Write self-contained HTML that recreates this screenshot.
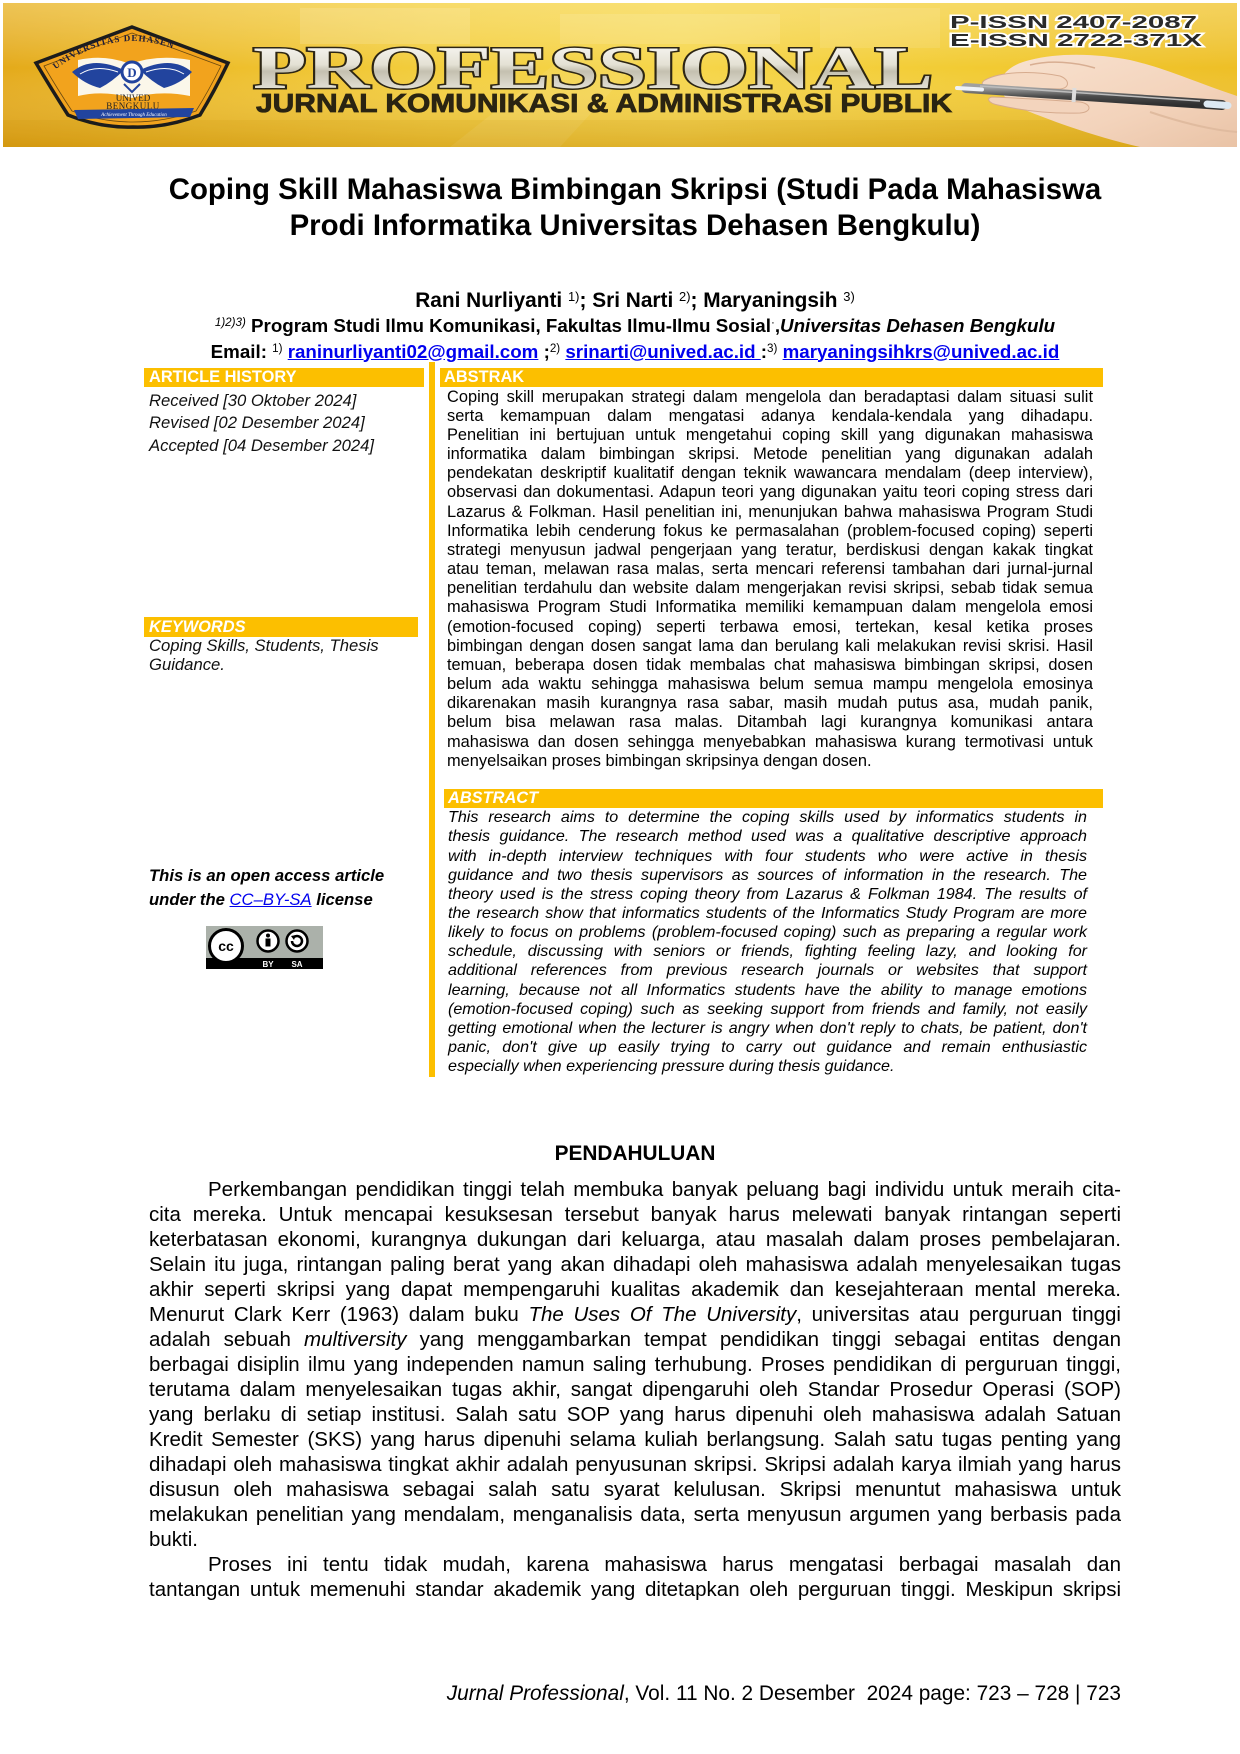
<!DOCTYPE html>
<html><head><meta charset="utf-8">
<style>
*{margin:0;padding:0;box-sizing:border-box}
html,body{width:1240px;height:1754px;background:#fff;overflow:hidden}
#p{position:relative;width:1240px;height:1754px;font-family:"Liberation Sans",Arial,sans-serif;color:#000;background:#fff}
.a{position:absolute}
.sup{font-size:0.62em;position:relative;top:-0.45em;font-weight:normal}
a{color:#0000ee;text-decoration:underline}
.bar{position:absolute;background:#fcbf00;color:#fff;font-weight:bold;font-size:16.4px;white-space:nowrap}
.j{text-align:justify;text-align-last:justify;white-space:normal;overflow:visible}
.e{text-align-last:left}
.c{text-align:center;white-space:nowrap}
</style></head><body><div id="p">

<!-- Banner -->
<svg class="a" style="left:0;top:0" width="1240" height="150" viewBox="0 0 1240 150">
<defs>
<linearGradient id="g1" x1="0" y1="0" x2="1" y2="0">
<stop offset="0" stop-color="#e4aa1a"/><stop offset="0.15" stop-color="#ecbb28"/><stop offset="0.35" stop-color="#f3ce3d"/><stop offset="0.55" stop-color="#f6d64a"/><stop offset="0.78" stop-color="#f2cb33"/><stop offset="1" stop-color="#eebf26"/>
</linearGradient>
<linearGradient id="g2" x1="0" y1="0" x2="0" y2="1">
<stop offset="0" stop-color="#fff3c0" stop-opacity="0.35"/><stop offset="0.45" stop-color="#fff" stop-opacity="0"/><stop offset="1" stop-color="#b87800" stop-opacity="0.32"/>
</linearGradient>
<linearGradient id="sil" x1="0" y1="0" x2="0" y2="1">
<stop offset="0" stop-color="#ffffff"/><stop offset="0.45" stop-color="#e4e1d4"/><stop offset="0.55" stop-color="#c4c0b0"/><stop offset="1" stop-color="#f8f6ee"/>
</linearGradient>
<linearGradient id="pen" x1="0" y1="0" x2="0" y2="1">
<stop offset="0" stop-color="#a0a0a0"/><stop offset="0.5" stop-color="#4a4a4a"/><stop offset="1" stop-color="#2e2e2e"/>
</linearGradient>
<linearGradient id="skin" x1="0" y1="0" x2="1" y2="1">
<stop offset="0" stop-color="#f8e2d0"/><stop offset="0.6" stop-color="#f3d3bb"/><stop offset="1" stop-color="#e9c3a6"/>
</linearGradient>
<path id="arc" d="M52,72 Q132,10 214,72"/>
</defs>
<rect x="3" y="3" width="1234" height="144" fill="url(#g1)"/>
<rect x="3" y="3" width="1234" height="144" fill="url(#g2)"/>
<rect x="300" y="8" width="170" height="36" fill="#fff" opacity="0.14"/>
<rect x="560" y="14" width="220" height="30" fill="#fff" opacity="0.12"/>
<rect x="820" y="8" width="120" height="40" fill="#fff" opacity="0.1"/>
<polygon points="450,147 560,60 640,60 560,147" fill="#fff" opacity="0.08"/>
<rect x="3" y="120" width="1234" height="27" fill="#c98a00" opacity="0.12"/>

<!-- logo -->
<path d="M132,27 L228,63 Q214,92 200,115 Q166,128 133,127 Q100,128 68,115 Q52,90 36,63 Z" fill="#f2a31d" stroke="#1c1c1c" stroke-width="3.5"/>
<path d="M132,33 L221,66 Q208,92 196,111 Q165,122 133,122 Q101,122 72,111 Q58,90 44,66 Z" fill="none" stroke="#6b4a10" stroke-width="0.8"/>
<text font-family="Liberation Serif,serif" font-weight="bold" font-size="9" fill="#1b1b3a" letter-spacing="1"><textPath href="#arc" startOffset="4">UNIVERSITAS DEHASEN</textPath></text>
<path d="M78,60 Q105,54 130,64 Q158,54 190,60 L190,96 Q160,90 132,98 Q104,90 78,96 Z" fill="#fbf7ea"/>
<path d="M72,72 Q92,55 124,70 Q112,82 100,88 Q84,84 72,72 Z" fill="#22449e"/>
<path d="M192,72 Q172,55 140,70 Q152,82 164,88 Q180,84 192,72 Z" fill="#22449e"/>
<path d="M80,74 Q96,64 118,72" stroke="#fff" stroke-width="1" fill="none"/>
<path d="M184,74 Q168,64 146,72" stroke="#fff" stroke-width="1" fill="none"/>
<circle cx="132" cy="72" r="10" fill="#fff" stroke="#22449e" stroke-width="3"/>
<text x="132" y="77" font-family="Liberation Serif,serif" font-weight="bold" font-size="13" text-anchor="middle" fill="#22449e">D</text>
<path d="M124,84 L132,92 L140,84" stroke="#22449e" stroke-width="2" fill="none"/>
<text x="133" y="101" font-family="Liberation Serif,serif" font-size="9" text-anchor="middle" fill="#222">UNIVED</text>
<text x="133" y="109" font-family="Liberation Serif,serif" font-size="9" text-anchor="middle" fill="#222" letter-spacing="0.5">BENGKULU</text>
<polygon points="74,110 194,108 190,117 78,119" fill="#22449e"/>
<text x="134" y="116" font-family="Liberation Serif,serif" font-style="italic" font-size="5" text-anchor="middle" fill="#fff">Achievement Through Education</text>

<!-- title art -->
<text x="253" y="88" font-family="Liberation Serif,serif" font-weight="bold" font-size="60" textLength="680" lengthAdjust="spacingAndGlyphs" fill="url(#sil)" stroke="#2d2614" stroke-width="3" paint-order="stroke">PROFESSIONAL</text>
<text x="256" y="112" font-family="Liberation Sans,sans-serif" font-weight="bold" font-size="26" textLength="696" lengthAdjust="spacingAndGlyphs" fill="#2a2412" stroke="#2a2412" stroke-width="0.8">JURNAL KOMUNIKASI &amp; ADMINISTRASI PUBLIK</text>
<text x="950" y="28" font-family="Liberation Sans,sans-serif" font-weight="bold" font-size="17.5" textLength="247" lengthAdjust="spacingAndGlyphs" fill="#2a2a2a" stroke="#fff" stroke-width="3" paint-order="stroke">P-ISSN 2407-2087</text>
<text x="950" y="46" font-family="Liberation Sans,sans-serif" font-weight="bold" font-size="17.5" textLength="252" lengthAdjust="spacingAndGlyphs" fill="#2a2a2a" stroke="#fff" stroke-width="3" paint-order="stroke">E-ISSN 2722-371X</text>

<!-- hand & pen -->
<path d="M1030,60 C1060,52 1100,54 1130,60 C1165,68 1195,82 1237,96 L1237,147 L1140,147 C1100,138 1060,124 1030,112 C1010,104 1000,95 1000,86 C1000,74 1012,64 1030,60 Z" fill="url(#skin)"/>
<path d="M985,80 C1000,72 1030,70 1060,76 C1070,80 1070,88 1060,89 C1035,88 1005,88 990,88 C982,87 980,83 985,80 Z" fill="#f5d9c3" stroke="#d6ab8e" stroke-width="1"/>
<line x1="966" y1="88" x2="1222" y2="105" stroke="url(#pen)" stroke-width="10" stroke-linecap="round"/>
<line x1="980" y1="86" x2="1200" y2="101" stroke="#bdbdbd" stroke-width="1.5"/>
<path d="M992,97 C1020,98 1050,100 1080,102 C1092,104 1092,112 1080,113 C1050,114 1020,110 998,105 C988,103 986,98 992,97 Z" fill="#f3d4bd" stroke="#d6ab8e" stroke-width="1"/>
<path d="M1030,65 C1050,60 1075,62 1095,68" stroke="#d8ae92" stroke-width="1.5" fill="none"/>
<path d="M1150,112 C1180,122 1210,130 1237,132" stroke="#e0bb9f" stroke-width="2" fill="none"/>
<line x1="957" y1="88" x2="982" y2="89.5" stroke="#eef2f8" stroke-width="4" stroke-linecap="round"/>
<line x1="1207" y1="104" x2="1228" y2="105.5" stroke="#dce8f2" stroke-width="7" stroke-linecap="round"/>
<rect x="1072" y="88" width="4" height="14" fill="#ddd" transform="rotate(4 1074 95)"/>
</svg>

<!-- Title -->
<div class="a c" style="left:149px;top:172px;width:972px;font-weight:bold;font-size:29.4px;line-height:36px">Coping Skill Mahasiswa Bimbingan Skripsi (Studi Pada Mahasiswa<br>Prodi Informatika Universitas Dehasen Bengkulu)</div>

<div class="a c" style="left:149px;top:289px;width:972px;font-weight:bold;font-size:20.83px;line-height:24px">Rani Nurliyanti <span class="sup">1)</span>; Sri Narti <span class="sup">2)</span>; Maryaningsih <span class="sup">3)</span></div>

<div class="a c" style="left:149px;top:313.5px;width:972px;font-weight:bold;font-size:18.75px;line-height:24px"><span class="sup"><i>1)2)3)</i></span> Program Studi Ilmu Komunikasi, Fakultas Ilmu-Ilmu Sosial<span class="sup">·</span>,<i>Universitas Dehasen Bengkulu</i></div>

<div class="a c" style="left:149px;top:339.5px;width:972px;font-weight:bold;font-size:18.75px;line-height:24px">Email: <span class="sup">1)</span> <a>raninurliyanti02@gmail.com</a> ;<span class="sup">2)</span> <a>srinarti@unived.ac.id </a>:<span class="sup">3)</span> <a>maryaningsihkrs@unived.ac.id</a></div>

<!-- vertical line -->
<div class="a" style="left:429px;top:362px;width:6px;height:715px;background:#fcbf00"></div>

<!-- bars -->
<div class="bar" style="left:144px;top:368px;width:280px;height:19px;line-height:19px;padding-left:5px">ARTICLE HISTORY</div>
<div class="bar" style="left:440px;top:368px;width:663px;height:19px;line-height:19px;padding-left:4px">ABSTRAK</div>
<div class="bar" style="left:144px;top:617px;width:274px;height:20px;line-height:20px;padding-left:5px;font-style:italic">KEYWORDS</div>
<div class="bar" style="left:444px;top:789px;width:659px;height:19px;line-height:19px;padding-left:4px;font-style:italic">ABSTRACT</div>

<!-- article history -->
<div class="a" style="left:149px;top:389.5px;font-style:italic;font-size:16.67px;line-height:22.8px;color:#111;white-space:nowrap">Received [30 Oktober 2024]<br>Revised [02 Desember 2024]<br>Accepted [04 Desember 2024]</div>

<!-- keywords -->
<div class="a" style="left:149px;top:636.4px;font-style:italic;font-size:16.67px;line-height:19px;color:#111;white-space:nowrap">Coping Skills, Students, Thesis<br>Guidance.</div>

<!-- open access -->
<div class="a" style="left:149px;top:864.3px;font-style:italic;font-weight:bold;font-size:16.67px;line-height:23.3px;white-space:nowrap">This is an open access article<br>under the <a style="font-weight:normal">CC–BY-SA</a> license</div>

<!-- CC badge -->
<svg class="a" style="left:206px;top:926px" width="117" height="43" viewBox="0 0 117 43">
<rect x="0" y="0" width="117" height="43" fill="#abb1aa"/>
<rect x="0" y="32" width="117" height="11" fill="#000"/>
<circle cx="20" cy="20" r="16.5" fill="#fff" stroke="#000" stroke-width="3"/>
<text x="20" y="25" font-family="Liberation Sans,sans-serif" font-weight="bold" font-size="14" text-anchor="middle" fill="#000">cc</text>
<circle cx="62" cy="15" r="10.5" fill="#fff" stroke="#000" stroke-width="2.5"/>
<circle cx="62" cy="9.5" r="2" fill="#000"/>
<rect x="59.5" y="12.5" width="5" height="8" fill="#000"/>
<circle cx="91" cy="15" r="10.5" fill="#fff" stroke="#000" stroke-width="2.5"/>
<path d="M86,15 A5,5 0 1 0 88,11" stroke="#000" stroke-width="2.5" fill="none"/>
<polygon points="85,10 90,9 88,14" fill="#000"/>
<text x="62" y="41" font-family="Liberation Sans,sans-serif" font-weight="bold" font-size="8" text-anchor="middle" fill="#fff">BY</text>
<text x="91" y="41" font-family="Liberation Sans,sans-serif" font-weight="bold" font-size="8" text-anchor="middle" fill="#fff">SA</text>
</svg>

<!-- ABSTRAK text -->
<div class="a" style="left:447px;top:387.7px;width:646px;font-size:16.4px;line-height:19.15px">
<div class="j">Coping skill merupakan strategi dalam mengelola dan beradaptasi dalam situasi sulit</div>
<div class="j">serta kemampuan dalam mengatasi adanya kendala-kendala yang dihadapu.</div>
<div class="j">Penelitian ini bertujuan untuk mengetahui coping skill yang digunakan mahasiswa</div>
<div class="j">informatika dalam bimbingan skripsi. Metode penelitian yang digunakan adalah</div>
<div class="j">pendekatan deskriptif kualitatif dengan teknik wawancara mendalam (deep interview),</div>
<div class="j">observasi dan dokumentasi. Adapun teori yang digunakan yaitu teori coping stress dari</div>
<div class="j">Lazarus &amp; Folkman. Hasil penelitian ini, menunjukan bahwa mahasiswa Program Studi</div>
<div class="j">Informatika lebih cenderung fokus ke permasalahan (problem-focused coping) seperti</div>
<div class="j">strategi menyusun jadwal pengerjaan yang teratur, berdiskusi dengan kakak tingkat</div>
<div class="j">atau teman, melawan rasa malas, serta mencari referensi tambahan dari jurnal-jurnal</div>
<div class="j">penelitian terdahulu dan website dalam mengerjakan revisi skripsi, sebab tidak semua</div>
<div class="j">mahasiswa Program Studi Informatika memiliki kemampuan dalam mengelola emosi</div>
<div class="j">(emotion-focused coping) seperti terbawa emosi, tertekan, kesal ketika proses</div>
<div class="j">bimbingan dengan dosen sangat lama dan berulang kali melakukan revisi skrisi. Hasil</div>
<div class="j">temuan, beberapa dosen tidak membalas chat mahasiswa bimbingan skripsi, dosen</div>
<div class="j">belum ada waktu sehingga mahasiswa belum semua mampu mengelola emosinya</div>
<div class="j">dikarenakan masih kurangnya rasa sabar, masih mudah putus asa, mudah panik,</div>
<div class="j">belum bisa melawan rasa malas. Ditambah lagi kurangnya komunikasi antara</div>
<div class="j">mahasiswa dan dosen sehingga menyebabkan mahasiswa kurang termotivasi untuk</div>
<div class="j e">menyelsaikan proses bimbingan skripsinya dengan dosen.</div>
</div>

<!-- ABSTRACT text -->
<div class="a" style="left:448px;top:808.2px;width:639px;font-size:16.1px;line-height:19.15px;font-style:italic">
<div class="j">This research aims to determine the coping skills used by informatics students in</div>
<div class="j">thesis guidance. The research method used was a qualitative descriptive approach</div>
<div class="j">with in-depth interview techniques with four students who were active in thesis</div>
<div class="j">guidance and two thesis supervisors as sources of information in the research. The</div>
<div class="j">theory used is the stress coping theory from Lazarus &amp; Folkman 1984. The results of</div>
<div class="j">the research show that informatics students of the Informatics Study Program are more</div>
<div class="j">likely to focus on problems (problem-focused coping) such as preparing a regular work</div>
<div class="j">schedule, discussing with seniors or friends, fighting feeling lazy, and looking for</div>
<div class="j">additional references from previous research journals or websites that support</div>
<div class="j">learning, because not all Informatics students have the ability to manage emotions</div>
<div class="j">(emotion-focused coping) such as seeking support from friends and family, not easily</div>
<div class="j">getting emotional when the lecturer is angry when don't reply to chats, be patient, don't</div>
<div class="j">panic, don't give up easily trying to carry out guidance and remain enthusiastic</div>
<div class="j e">especially when experiencing pressure during thesis guidance.</div>
</div>

<!-- PENDAHULUAN -->
<div class="a c" style="left:149px;top:1141.3px;width:972px;font-weight:bold;font-size:20.83px;line-height:25px">PENDAHULUAN</div>

<div class="a" style="left:149px;top:1177.4px;width:972px;font-size:20.5px;line-height:25px">
<div class="j" style="text-indent:59px">Perkembangan pendidikan tinggi telah membuka banyak peluang bagi individu untuk meraih cita-</div>
<div class="j">cita mereka. Untuk mencapai kesuksesan tersebut banyak harus melewati banyak rintangan seperti</div>
<div class="j">keterbatasan ekonomi, kurangnya dukungan dari keluarga, atau masalah dalam proses pembelajaran.</div>
<div class="j">Selain itu juga, rintangan paling berat yang akan dihadapi oleh mahasiswa adalah menyelesaikan tugas</div>
<div class="j">akhir seperti skripsi yang dapat mempengaruhi kualitas akademik dan kesejahteraan mental mereka.</div>
<div class="j">Menurut Clark Kerr (1963) dalam buku <i>The Uses Of The University</i>, universitas atau perguruan tinggi</div>
<div class="j">adalah sebuah <i>multiversity</i> yang menggambarkan tempat pendidikan tinggi sebagai entitas dengan</div>
<div class="j">berbagai disiplin ilmu yang independen namun saling terhubung. Proses pendidikan di perguruan tinggi,</div>
<div class="j">terutama dalam menyelesaikan tugas akhir, sangat dipengaruhi oleh Standar Prosedur Operasi (SOP)</div>
<div class="j">yang berlaku di setiap institusi. Salah satu SOP yang harus dipenuhi oleh mahasiswa adalah Satuan</div>
<div class="j">Kredit Semester (SKS) yang harus dipenuhi selama kuliah berlangsung. Salah satu tugas penting yang</div>
<div class="j">dihadapi oleh mahasiswa tingkat akhir adalah penyusunan skripsi. Skripsi adalah karya ilmiah yang harus</div>
<div class="j">disusun oleh mahasiswa sebagai salah satu syarat kelulusan. Skripsi menuntut mahasiswa untuk</div>
<div class="j">melakukan penelitian yang mendalam, menganalisis data, serta menyusun argumen yang berbasis pada</div>
<div class="j e">bukti.</div>
<div class="j" style="text-indent:59px">Proses ini tentu tidak mudah, karena mahasiswa harus mengatasi berbagai masalah dan</div>
<div class="j">tantangan untuk memenuhi standar akademik yang ditetapkan oleh perguruan tinggi. Meskipun skripsi</div>
</div>

<!-- footer -->
<div class="a" style="left:149px;top:1681.3px;width:972px;text-align:right;font-size:20.83px;line-height:25px;white-space:pre"><i>Jurnal Professional</i>, Vol. 11 No. 2 Desember  2024 page: 723 – 728 | 723</div>

</div></body></html>
